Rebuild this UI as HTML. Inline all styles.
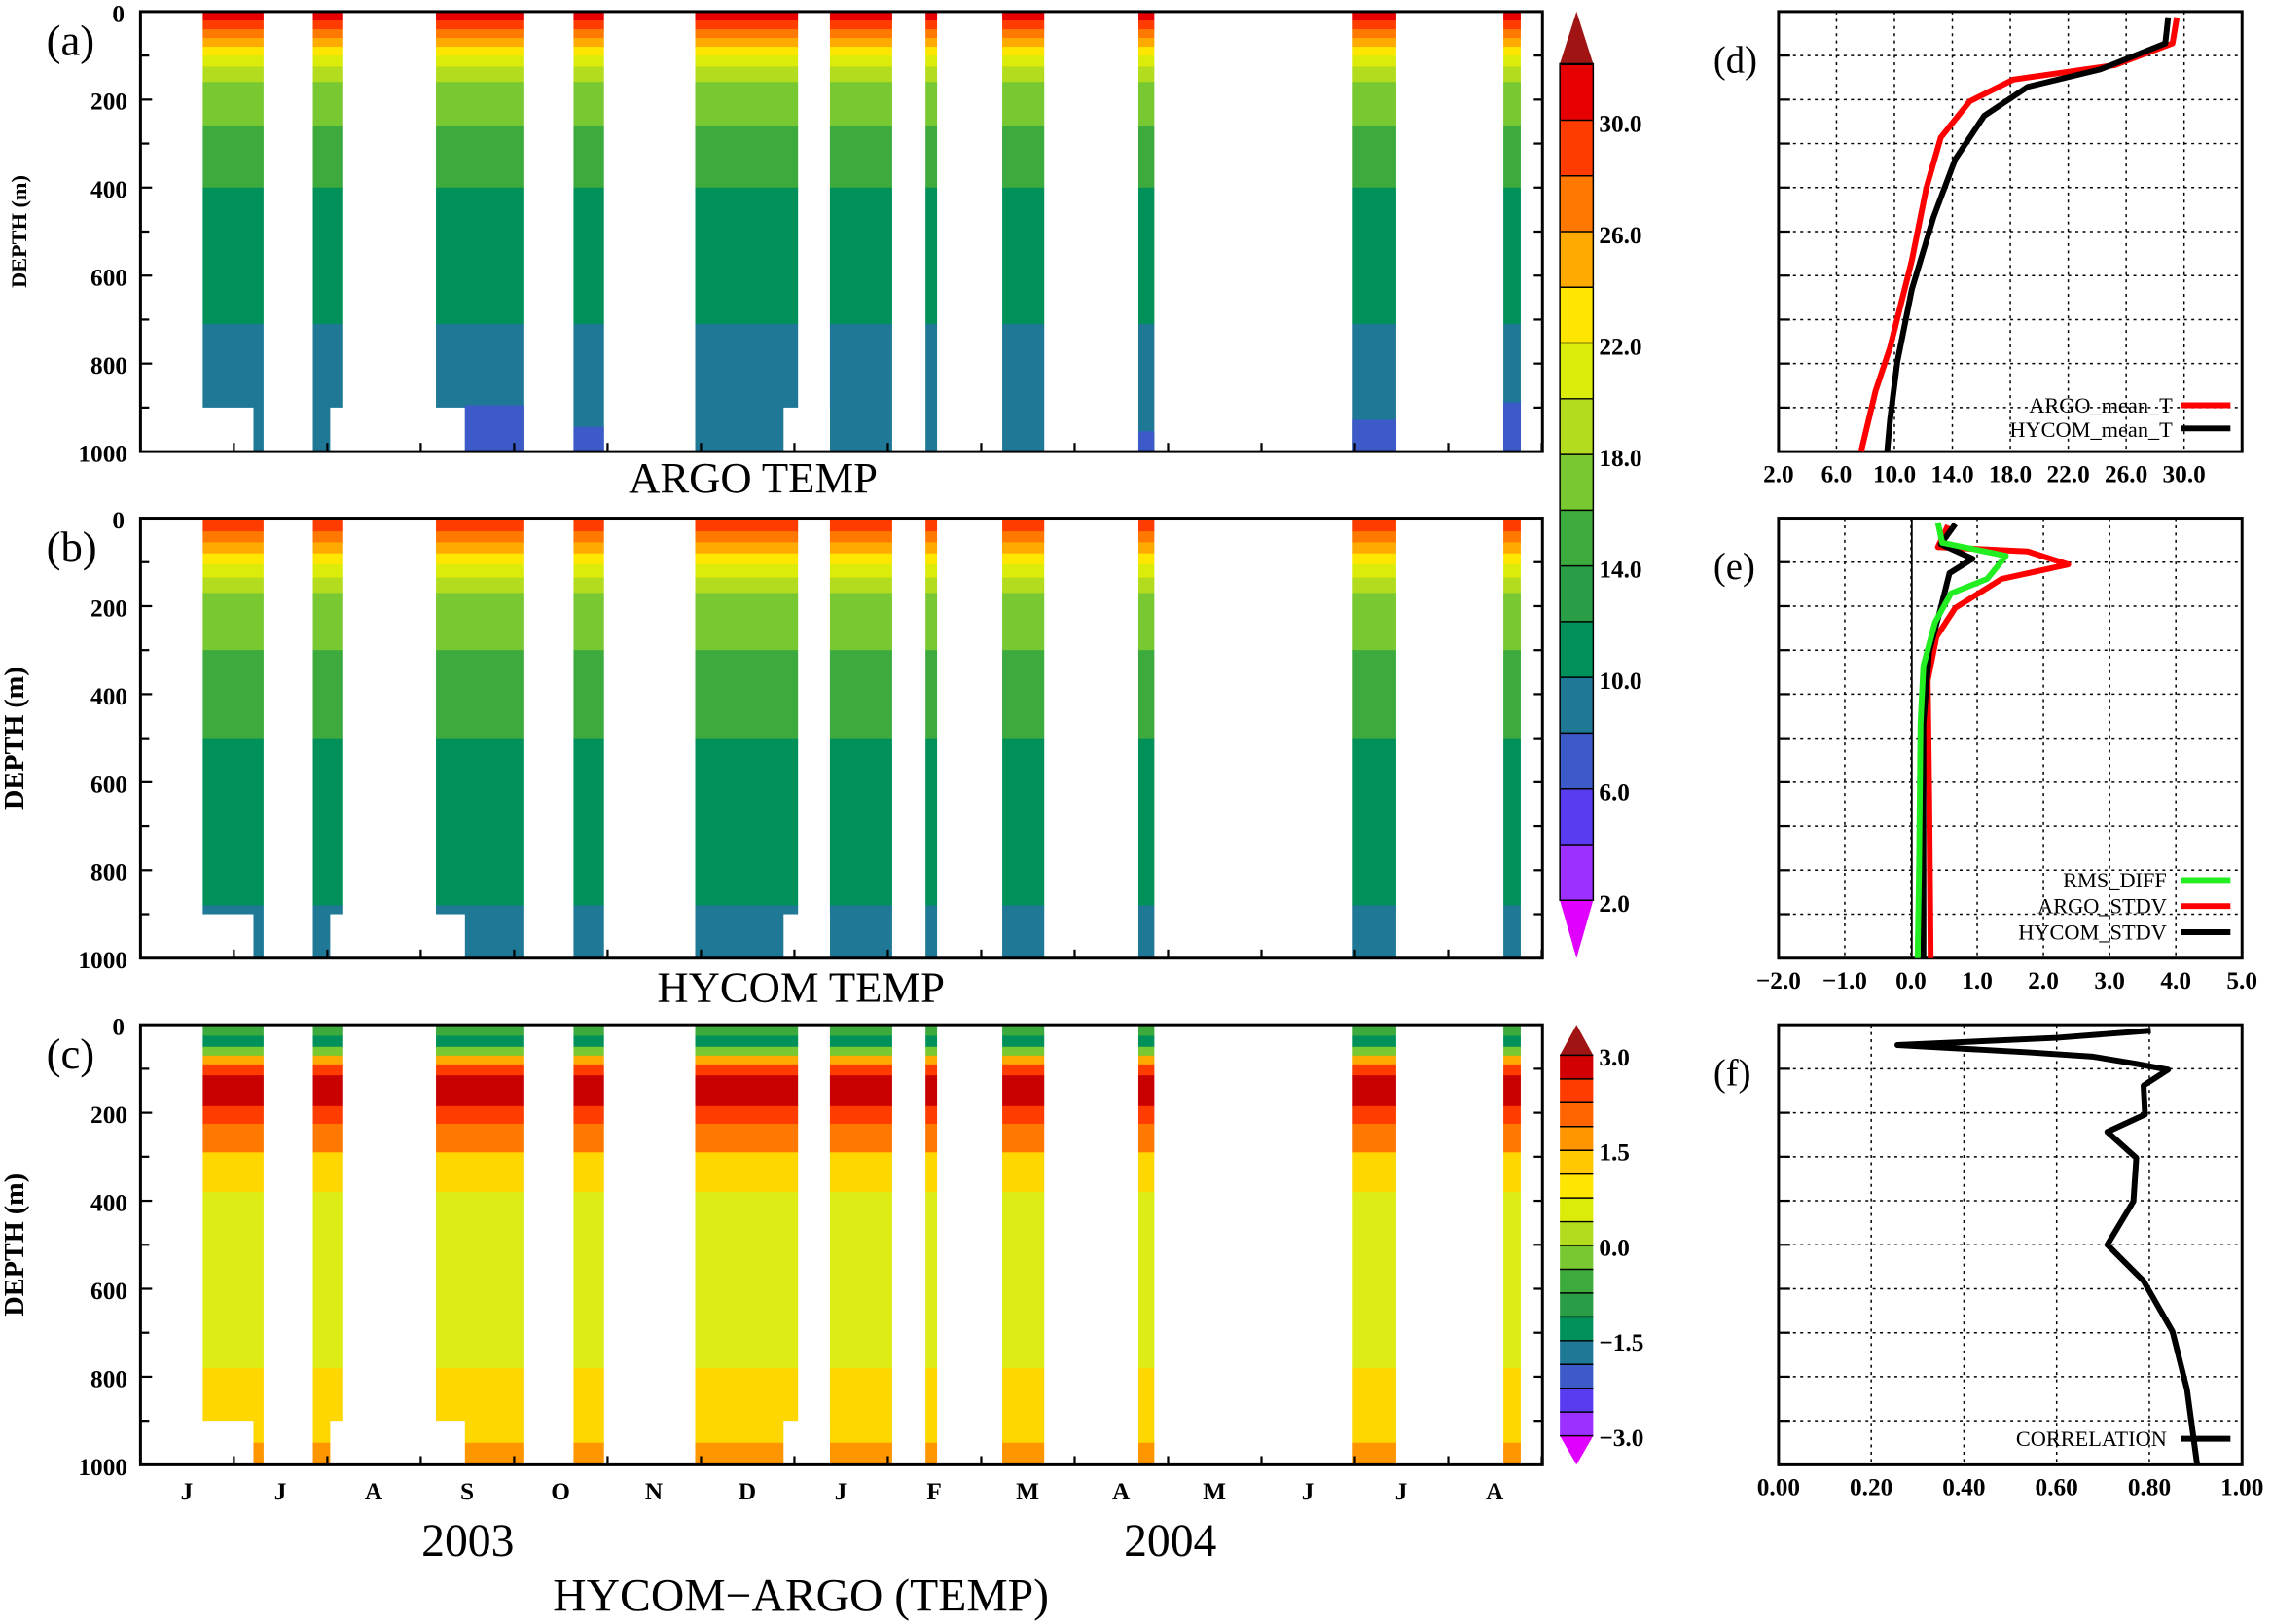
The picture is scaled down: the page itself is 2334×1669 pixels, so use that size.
<!DOCTYPE html>
<html><head><meta charset="utf-8"><style>
html,body{margin:0;padding:0;background:#fff}
svg{display:block}
text{font-family:"Liberation Serif",serif}
.t{font-weight:bold;font-size:17px}
</style></head><body>
<svg id="s" width="2334" height="1669" viewBox="0 0 1568 1122" preserveAspectRatio="none" xmlns="http://www.w3.org/2000/svg">
<g id="g"></g>
</svg>
<script>
var g=document.getElementById('g'),h='';
function R(x,y,w,hh,c){h+='<rect x="'+x+'" y="'+y+'" width="'+w+'" height="'+hh+'" fill="'+c+'"/>';}
function T(x,y,s,cls,anc,sz){h+='<text x="'+x+'" y="'+y+'" class="'+(cls||'')+'" text-anchor="'+(anc||'start')+'"'+(sz?' font-size="'+sz+'"':'')+'>'+s+'</text>';}
function P(pts,c,w){h+='<polyline points="'+pts+'" fill="none" stroke="'+c+'" stroke-width="'+w+'" stroke-linejoin="round"/>';}
var cols=[[140,182],[216,237],[301,362],[396,417],[480,551],[573,616],[639,647],[692,721],[786,797],[934,964],[1038,1050]];
var A=[[0,'#e60000'],[20,'#ff3c00'],[40,'#ff7800'],[60,'#ffaa00'],[80,'#ffe600'],[100,'#dcec0a'],[125,'#b4dc1e'],[160,'#78c832'],[260,'#3caa3c'],[400,'#00915a'],[710,'#1e7896']];
var B=[[0,'#ff3c00'],[30,'#ff7800'],[55,'#ffaa00'],[80,'#ffe600'],[105,'#dcec0a'],[135,'#b4dc1e'],[170,'#78c832'],[300,'#3caa3c'],[500,'#00915a'],[880,'#1e7896']];
var C=[[0,'#3caa3c'],[25,'#00915a'],[50,'#78c832'],[70,'#ffaa00'],[90,'#ff3c00'],[115,'#c80000'],[185,'#ff3c00'],[225,'#ff7800'],[290,'#ffd700'],[380,'#dcec14'],[780,'#ffd700'],[950,'#ff9600']];
function panel(top,L){
 var k=0.304;
 cols.forEach(function(c){for(var i=0;i<L.length;i++){var d0=L[i][0],d1=i+1<L.length?L[i+1][0]:1000;R(c[0],top+d0*k,c[1]-c[0],(d1-d0)*k+0.5,L[i][1]);}});
 R(98,top+900*k,77,100*k,'#fff');R(228,top+900*k,93,100*k,'#fff');R(541,top+900*k,32,100*k,'#fff');
}
panel(8,A);panel(358,B);panel(708,C);
[[321,362,280],[396,417,295],[934,964,290],[1038,1050,278],[786,797,298]].forEach(function(b){R(b[0],b[2],b[1]-b[0],312-b[2],'#3c5ac8');});
[8,358,708].forEach(function(top,pi){
 h+='<rect x="97" y="'+top+'" width="968" height="304" fill="none" stroke="#000" stroke-width="2"/>';
 for(var d=0;d<=1000;d+=100){var y=top+d*0.304;h+='<line x1="97" x2="'+(d%200?103:105)+'" y1="'+y+'" y2="'+y+'" stroke="#000" stroke-width="1.5"/><line x1="1065" x2="1059" y1="'+y+'" y2="'+y+'" stroke="#000" stroke-width="1.5"/>';
  if(d%200==0)T(d==0?86:88,y+7,d,'t','end',20);}
 for(var i=0;i<16;i++){var x=97+i*64.5;h+='<line x1="'+x+'" x2="'+x+'" y1="'+(top+304)+'" y2="'+(top+298)+'" stroke="#000" stroke-width="1.5"/>';}
 var fs=pi==0?15:19,lx=pi==0?18:16;
 h+='<text x="'+lx+'" y="'+(top+152)+'" transform="rotate(-90 '+lx+' '+(top+152)+')" text-anchor="middle" font-weight="bold" font-size="'+fs+'">DEPTH (m)</text>';
 T(32,top+30,'('+'abc'[pi]+')','','start',30);
});
T(520,340,'ARGO TEMP','','middle',30);T(553,692,'HYCOM TEMP','','middle',30);
'JJASONDJFMAMJJA'.split('').forEach(function(m,i){T(129+i*64.5,1036,m,'t','middle',20);});
T(323,1075,'2003','','middle',32);T(808,1075,'2004','','middle',32);
T(553,1113,'HYCOM−ARGO (TEMP)','','middle',32);
var cb1=['#9b30ff','#5a3cf0','#3c5ac8','#1e7896','#00915a','#2a9e46','#3caa3c','#78c832','#b4dc1e','#dcec0a','#ffe600','#ffaa00','#ff7800','#ff3c00','#e60000'];
for(var i=0;i<15;i++){R(1077,622-(i+1)*38.5,23,38.6,cb1[i]);}
h+='<polygon points="1077,44 1100,44 1088.5,8" fill="#a01414"/><polygon points="1077,622 1100,622 1088.5,662" fill="#e000ff"/>';
for(var i=0;i<=15;i++){var y=622-i*38.5;h+='<line x1="1077" x2="1100" y1="'+y+'" y2="'+y+'" stroke="#000" stroke-width="1"/>';}
h+='<rect x="1077" y="44" width="23" height="578" fill="none" stroke="#000"/>';
['2.0','6.0','10.0','14.0','18.0','22.0','26.0','30.0'].forEach(function(s,i){T(1104,630-i*77,s,'t','start',20);});
var cb2=['#9b30ff','#5a3cf0','#3c5ac8','#1e7896','#00915a','#2a9e46','#3caa3c','#78c832','#b4dc1e','#dcec0a','#ffe600','#ffc800','#ff9600','#ff6400','#ff3c00','#d20000'];
var bt=992,bh=(992-729)/16;
for(var i=0;i<16;i++)R(1077,bt-(i+1)*bh,23,bh+0.3,cb2[i]);
h+='<polygon points="1077,729 1100,729 1088.5,708" fill="#a01414"/><polygon points="1077,992 1100,992 1088.5,1012" fill="#e000ff"/>';
for(var i=0;i<=16;i++){var y=bt-i*bh;h+='<line x1="1077" x2="1100" y1="'+y+'" y2="'+y+'" stroke="#000" stroke-width="1"/>';}
['−3.0','−1.5','0.0','1.5','3.0'].forEach(function(s,i){T(1104,999-i*65.75,s,'t','start',20);});
function rp(top,lab,ticks){
 var n=ticks.length;
 for(var i=1;i<n;i++){var x=1228+i*(320/(n-1));if(x<1547)h+='<line x1="'+x+'" x2="'+x+'" y1="'+top+'" y2="'+(top+304)+'" stroke="#000" stroke-dasharray="2,3" stroke-width="1"/>';}
 for(var d=100;d<1000;d+=100){var y=top+d*0.304;h+='<line x1="1228" x2="1548" y1="'+y+'" y2="'+y+'" stroke="#000" stroke-dasharray="2,3" stroke-width="1"/><line x1="1228" x2="1236" y1="'+y+'" y2="'+y+'" stroke="#000" stroke-width="1.5"/>';}
 h+='<rect x="1228" y="'+top+'" width="320" height="304" fill="none" stroke="#000" stroke-width="2"/>';
 ticks.forEach(function(s,i){T(1228+i*(320/(n-1)),top+325,s,'t','middle',16);});
 T(1183,top+42,lab,'','start',26);
}
rp(8,'(d)',['2.0','6.0','10.0','14.0','18.0','22.0','26.0','30.0','']);
rp(358,'(e)',['−2.0','−1.0','0.0','1.0','2.0','3.0','4.0','5.0']);
rp(708,'(f)',['0.00','0.20','0.40','0.60','0.80','1.00']);
P('1503,12 1500,30 1460,45 1390,55 1360,70 1340,95 1330,130 1320,180 1305,240 1295,270 1285,312','#ff0000',4);
P('1497,12 1495,30 1450,48 1400,60 1370,80 1350,110 1335,150 1320,200 1310,250 1305,290 1303,312','#000',4);
T(1500,285,'ARGO_mean_T','','end',15);T(1500,302,'HYCOM_mean_T','','end',15);
P('1506,280 1540,280','#ff0000',4);P('1506,296 1540,296','#000',4);
h+='<line x1="1320" x2="1320" y1="358" y2="662" stroke="#000" stroke-width="1.2"/>';
P('1345,363 1338,378 1400,381 1428,390 1405,395 1382,400 1350,420 1337,440 1331,470 1332,550 1333,662','#ff0000',4);
P('1350,362 1340,376 1362,386 1346,396 1340,420 1332,450 1328,500 1328,662','#000',4);
P('1338,361 1341,375 1385,384 1372,400 1347,410 1336,430 1328,460 1326,500 1325,600 1324,662','#22ee22',4);
T(1496,613,'RMS_DIFF','','end',15);T(1496,631,'ARGO_STDV','','end',15);T(1496,649,'HYCOM_STDV','','end',15);
P('1506,608 1540,608','#22ee22',4);P('1506,626 1540,626','#ff0000',4);P('1506,644 1540,644','#000',4);
P('1485,712 1420,717 1310,722 1400,727 1445,730 1475,735 1497,739 1480,750 1481,770 1455,782 1475,800 1473,830 1455,860 1480,885 1500,920 1510,960 1517,1012','#000',4);
T(1496,999,'CORRELATION','','end',15);P('1506,994 1540,994','#000',4);
g.innerHTML=h;
</script>
</body></html>
